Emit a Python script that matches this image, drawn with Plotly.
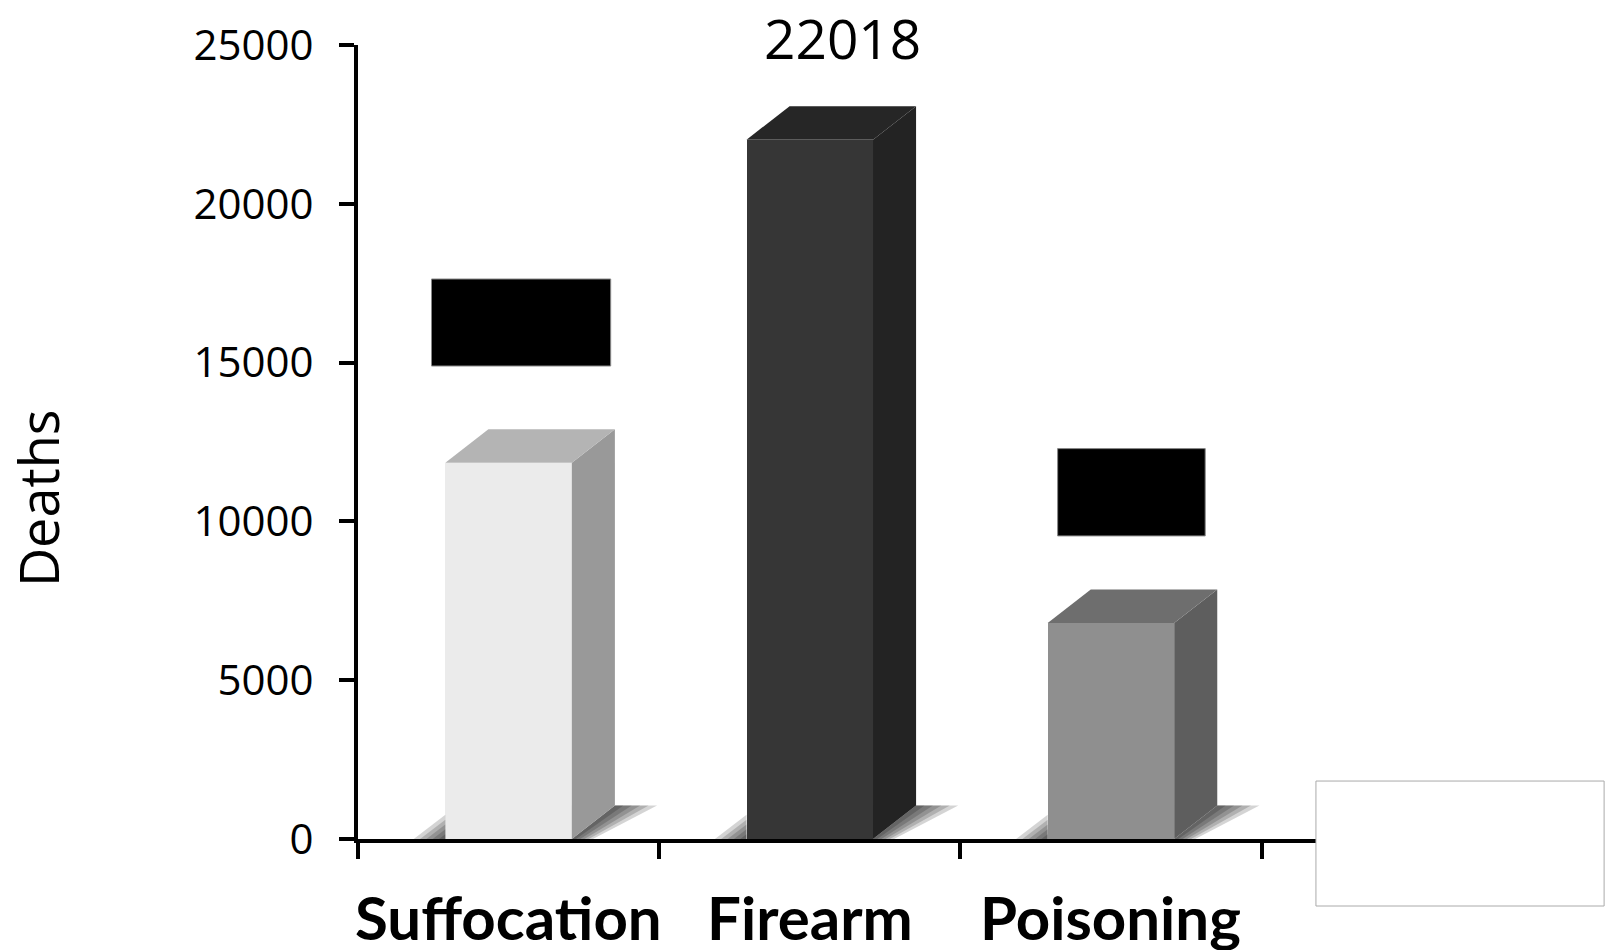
import plotly.graph_objects as go

# ---- data ----
categories = ["Suffocation", "Firearm", "Poisoning"]
deaths = [11850, 22018, 6800]
value_label = ["", "22018", ""]
front_colors = ["#ebebeb", "#363636", "#8f8f8f"]
side_colors = ["#999999", "#232323", "#5e5e5e"]
top_colors = ["#b4b4b4", "#262626", "#6e6e6e"]
y_ticks = [0, 5000, 10000, 15000, 20000, 25000]
y_tick_text = ["0", "5000", "10000", "15000", "20000", "25000"]

# ---- styling constants ----
positions = list(range(len(categories)))
bar_w = 0.42          # front face width (category units)
dx = 0.143            # depth offset in x (category units)
dy = 1055             # depth offset in y (data units)
FONT = "Open Sans"
BOLD_FONT = "Lato"

fig = go.Figure()

# shadows (drawn first)
for x, v in zip(positions, deaths):
    xr = x + bar_w / 2
    xl = x - bar_w / 2
    for k in [1.0, 0.8, 0.6, 0.4, 0.2]:
        e = 0.14 * k
        fig.add_trace(go.Scatter(
            x=[xr, xr + dx, xr + dx + e, xr + e * 0.5, xr],
            y=[0, dy, dy, 0, 0],
            fill="toself", mode="lines", line=dict(width=0),
            fillcolor="rgba(0,0,0,0.17)", hoverinfo="skip", showlegend=False))
        fig.add_trace(go.Scatter(
            x=[xl - 0.105 * k, xl, xl, xl - 0.105 * k],
            y=[0, 0, 760 * k, 0],
            fill="toself", mode="lines", line=dict(width=0),
            fillcolor="rgba(0,0,0,0.17)", hoverinfo="skip", showlegend=False))

# front faces
fig.add_trace(go.Bar(
    x=positions, y=deaths, width=bar_w,
    marker=dict(color=front_colors, line=dict(width=0)),
    hoverinfo="skip", showlegend=False))

# side and top faces
for x, v, sc, tc in zip(positions, deaths, side_colors, top_colors):
    xl = x - bar_w / 2
    xr = x + bar_w / 2
    fig.add_trace(go.Scatter(
        x=[xr, xr, xr + dx, xr + dx, xr], y=[0, v, v + dy, dy, 0],
        fill="toself", mode="lines", line=dict(width=0, color=sc),
        fillcolor=sc, hoverinfo="skip", showlegend=False))
    fig.add_trace(go.Scatter(
        x=[xl, xr, xr + dx, xl + dx, xl], y=[v, v, v + dy, v + dy, v],
        fill="toself", mode="lines", line=dict(width=0, color=tc),
        fillcolor=tc, hoverinfo="skip", showlegend=False))

# value label
for x, lab in zip(positions, value_label):
    if lab:
        fig.add_annotation(x=x + 0.11, y=1.01, text=lab, showarrow=False,
                           xref="x", yref="paper", xanchor="center", yanchor="middle",
                           font=dict(family=FONT, size=55, color="black"))

# category labels
for x, c in zip(positions, categories):
    fig.add_annotation(x=x, y=-0.0977, xref="x", yref="paper", text=c,
                       showarrow=False, xanchor="center", yanchor="middle",
                       font=dict(family=BOLD_FONT, size=60, color="black", weight="bold"))

# y axis title
fig.add_annotation(x=-0.313, y=0.43, xref="paper", yref="paper", text="Deaths",
                   textangle=-90, showarrow=False, xanchor="center", yanchor="middle",
                   font=dict(family=FONT, size=54, color="black"))

# redaction boxes (overlays)
redaction_boxes = [(-0.256, 0.339, 14893, 17632), (1.823, 2.313, 9543, 12292)]
for x0, x1, y0, y1 in redaction_boxes:
    fig.add_shape(type="rect", xref="x", yref="y", x0=x0, x1=x1, y0=y0, y1=y1,
                  fillcolor="black", line=dict(width=1, color="#888888"))

# white legend-like box bottom right
fig.add_shape(type="rect", xref="paper", yref="paper", x0=0.9355, x1=1.2169,
              y0=-0.0844, y1=0.0730, fillcolor="white",
              line=dict(width=1, color="#aaaaaa"), layer="above")

fig.update_layout(
    width=1606, height=950,
    margin=dict(l=358, r=224, t=45, b=111),
    plot_bgcolor="white", paper_bgcolor="white",
    bargap=0,
    xaxis=dict(range=[-0.5, 2.9], tickvals=[-0.5, 0.5, 1.5, 2.5],
               showticklabels=False, ticks="outside", ticklen=16, tickwidth=4,
               tickcolor="black", showline=True, linewidth=4, linecolor="black",
               showgrid=False, zeroline=False, fixedrange=True),
    yaxis=dict(range=[0, 25000], tickvals=y_ticks, ticktext=y_tick_text,
               ticks="outside", ticklen=15,
               tickwidth=4, tickcolor="black", showline=True, linewidth=4,
               linecolor="black", showgrid=False, zeroline=False,
               tickfont=dict(family=FONT, size=42, color="black"),
               ticklabelstandoff=17),
)

fig.write_html("out.html", config={"displayModeBar": False},
               post_script="document.body.style.margin='0px';document.body.style.overflow='hidden';")
